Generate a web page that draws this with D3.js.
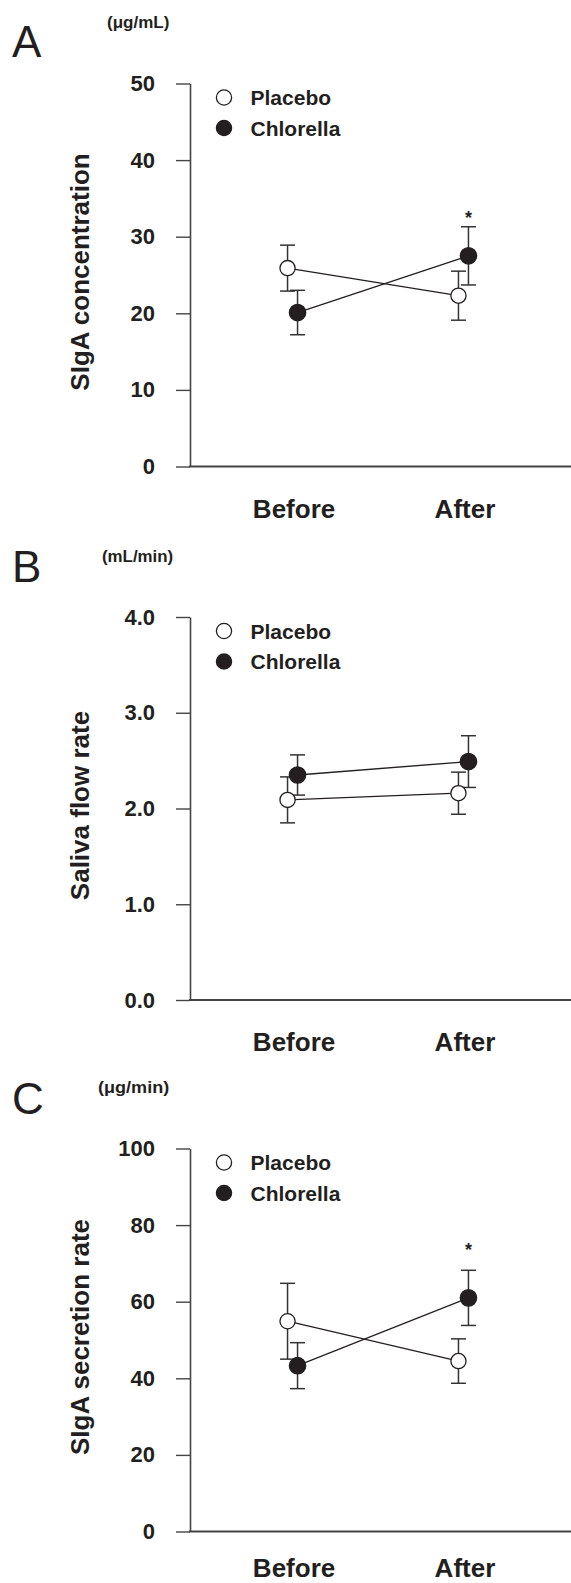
<!DOCTYPE html>
<html>
<head>
<meta charset="utf-8">
<script src="https://cdn.jsdelivr.net/npm/d3@7"></script>
<style>
  html, body { margin: 0; padding: 0; background: #fff; }
  text { font-family: "Liberation Sans", Arial, Helvetica, sans-serif; fill: #231f20; }
</style>
</head>
<body>
<div id="chart"></div>
<script>
// groups and series
var groups = ['Before', 'After'];
var seriesNames = ['Placebo', 'Chlorella'];

// A: SIgA concentration (ug/mL), mean and SE
var concPlacebo = [25.9, 22.3];
var concPlaceboSe = [3.0, 3.2];
var concChlorella = [20.1, 27.5];
var concChlorellaSe = [2.9, 3.8];
var concStar = [null, 33.1];
var concTicks = [0, 10, 20, 30, 40, 50];

// B: saliva flow rate (mL/min)
var flowPlacebo = [2.09, 2.16];
var flowPlaceboSe = [0.24, 0.22];
var flowChlorella = [2.35, 2.49];
var flowChlorellaSe = [0.21, 0.27];
var flowStar = [null, null];
var flowTicks = [0, 1, 2, 3, 4];

// C: SIgA secretion rate (ug/min)
var secPlacebo = [54.9, 44.5];
var secPlaceboSe = [9.9, 5.8];
var secChlorella = [43.3, 61.0];
var secChlorellaSe = [6.0, 7.2];
var secStar = [null, 74.7];
var secTicks = [0, 20, 40, 60, 80, 100];

var width = 571, height = 1583;
var axisX = 190, plotRight = 571, plotH = 383;
var ink = '#231f20';

var panels = [
    { letter: 'A', letterDy: 27, unit: '(\u03bcg/mL)', unitX: 107, label: 'SIgA concentration', top: 83.5,
      ticks: concTicks, fmt: d3.format('d'),
      series: [[concPlacebo, concPlaceboSe], [concChlorella, concChlorellaSe]], star: concStar },
    { letter: 'B', letterDy: 35, unit: '(mL/min)', unitX: 102, label: 'Saliva flow rate', top: 617,
      ticks: flowTicks, fmt: d3.format('.1f'),
      series: [[flowPlacebo, flowPlaceboSe], [flowChlorella, flowChlorellaSe]], star: flowStar },
    { letter: 'C', letterDy: 35, unit: '(\u03bcg/min)', unitX: 98, label: 'SIgA secretion rate', top: 1148.5,
      ticks: secTicks, fmt: d3.format('d'),
      series: [[secPlacebo, secPlaceboSe], [secChlorella, secChlorellaSe]], star: secStar }
];

var svg = d3.select('#chart').append('svg')
    .attr('width', width)
    .attr('height', height);
svg.append('rect').attr('width', width).attr('height', height).attr('fill', '#fff');

var x = d3.scalePoint().domain(groups).range([axisX, 566]).padding(0.6);
var offset = { Placebo: -5, Chlorella: 5 };

panels.forEach(function (p) {
    var bottom = p.top + plotH;
    var y = d3.scaleLinear()
        .domain([0, d3.max(p.ticks)])
        .range([bottom, p.top]);

    var g = svg.append('g');

    // panel letter and unit
    g.append('text')
        .text(p.letter)
        .attr('x', 12)
        .attr('y', p.top - p.letterDy)
        .attr('font-size', '44px');
    g.append('text')
        .text(p.unit)
        .attr('x', p.unitX)
        .attr('y', p.top - 55.5)
        .attr('font-size', '16px')
        .attr('font-weight', 'bold')
        .attr('textLength', p.unit.length * 8.9)
        .attr('lengthAdjust', 'spacingAndGlyphs');

    // y axis
    var yAxis = g.append('g')
        .attr('transform', 'translate(' + axisX + ',0)')
        .call(d3.axisLeft(y).tickValues(p.ticks).tickFormat(p.fmt).tickSize(14).tickPadding(21).tickSizeOuter(0));
    yAxis.select('.domain').attr('stroke', '#444').attr('stroke-width', 1.6);
    yAxis.selectAll('.tick line').attr('stroke', '#444').attr('stroke-width', 1.4);
    yAxis.selectAll('.tick text')
        .attr('font-size', '22px')
        .attr('font-weight', 'bold')
        .attr('font-family', '"Liberation Sans", Arial, sans-serif')
        .attr('fill', ink);

    // x axis line (no ticks)
    g.append('line')
        .attr('x1', axisX - 1).attr('x2', plotRight)
        .attr('y1', y(0)).attr('y2', y(0))
        .attr('stroke', '#444').attr('stroke-width', 1.8);

    // keep the last panel's labels inside the page
    var labY = Math.min(y(0) + 51, height - 6);
    g.selectAll('.xlab')
        .data(groups)
        .enter().append('text')
        .attr('class', 'xlab')
        .text(function (d) { return d; })
        .attr('x', function (d) { return x(d) + 1.5; })
        .attr('y', labY)
        .attr('text-anchor', 'middle')
        .attr('font-size', '26px')
        .attr('font-weight', 'bold');

    // y label
    g.append('text')
        .text(p.label)
        .attr('transform', 'translate(89,' + (p.top + plotH / 2 - 3) + ') rotate(-90)')
        .attr('text-anchor', 'middle')
        .attr('font-size', '26px')
        .attr('font-weight', 'bold');

    // legend
    seriesNames.forEach(function (name, i) {
        var ly = p.top + 14 + i * 30.5;
        g.append('circle')
            .attr('cx', axisX + 34)
            .attr('cy', ly)
            .attr('r', 7.6)
            .attr('fill', i === 0 ? '#fff' : ink)
            .attr('stroke', ink)
            .attr('stroke-width', 1.3);
        g.append('text')
            .text(name)
            .attr('x', axisX + 60.5)
            .attr('y', ly + 7.5)
            .attr('font-size', '21px')
            .attr('font-weight', 'bold');
    });

    // data
    p.series.forEach(function (s, i) {
        var name = seriesNames[i];
        var pts = groups.map(function (grp, j) {
            return { grp: grp, mean: s[0][j], se: s[1][j], cx: x(grp) + offset[name] };
        });
        var eb = g.append('g');
        pts.forEach(function (d) {
            eb.append('line')
                .attr('x1', d.cx).attr('x2', d.cx)
                .attr('y1', y(d.mean - d.se)).attr('y2', y(d.mean + d.se));
            [d.mean - d.se, d.mean + d.se].forEach(function (v) {
                eb.append('line')
                    .attr('x1', d.cx - 7.5).attr('x2', d.cx + 7.5)
                    .attr('y1', y(v)).attr('y2', y(v));
            });
        });
        eb.selectAll('line').attr('stroke', '#333').attr('stroke-width', 1.5);
        p.series[i].pts = pts;
    });

    p.series.forEach(function (s) {
        g.append('path')
            .datum(s.pts)
            .attr('d', d3.line().x(function (d) { return d.cx; }).y(function (d) { return y(d.mean); }))
            .attr('fill', 'none')
            .attr('stroke', ink)
            .attr('stroke-width', 1.3);
    });

    p.series.forEach(function (s, i) {
        g.selectAll('.pt' + i)
            .data(s.pts)
            .enter().append('circle')
            .attr('cx', function (d) { return d.cx; })
            .attr('cy', function (d) { return y(d.mean); })
            .attr('r', i === 0 ? 7.6 : 8.2)
            .attr('fill', i === 0 ? '#fff' : ink)
            .attr('stroke', ink)
            .attr('stroke-width', 1.3);
    });

    // significance marks over chlorella
    p.star.forEach(function (v, j) {
        if (v === null) return;
        g.append('text')
            .text('*')
            .attr('x', x(groups[j]) + offset.Chlorella)
            .attr('y', y(v))
            .attr('dy', '0.6em')
            .attr('text-anchor', 'middle')
            .attr('font-size', '18px')
            .attr('font-weight', 'bold');
    });
});
</script>
</body>
</html>
